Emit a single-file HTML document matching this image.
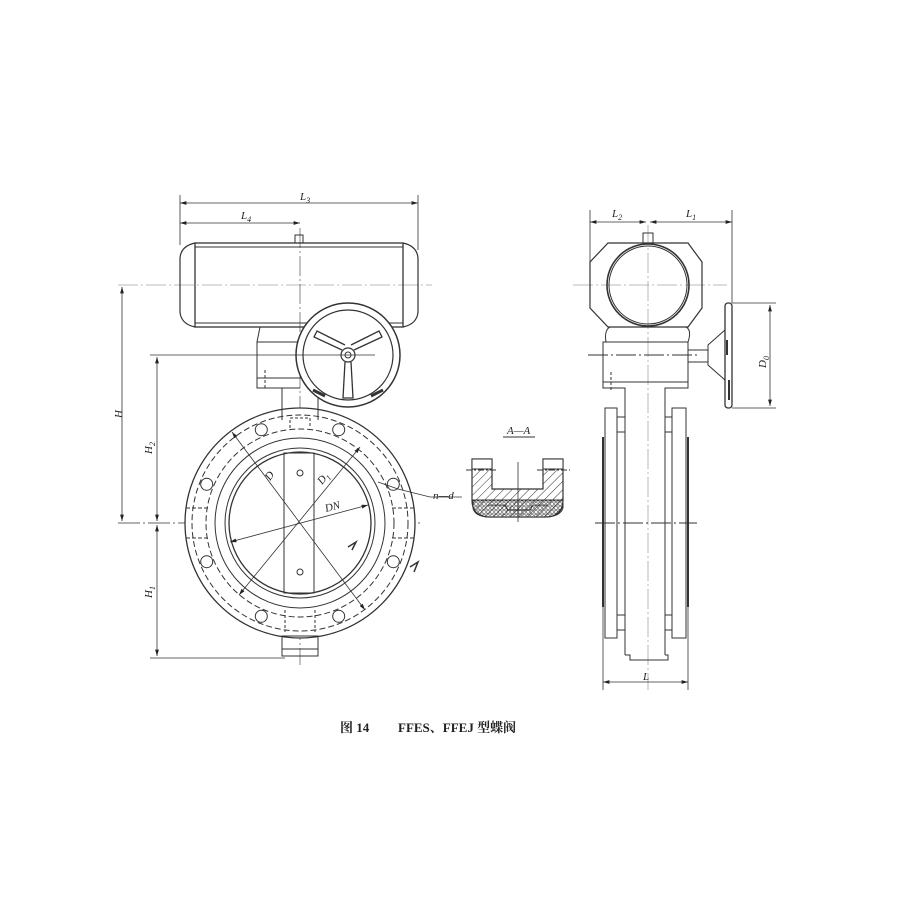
<!DOCTYPE html>
<html><head><meta charset="utf-8"><style>
html,body{margin:0;padding:0;background:#fff;}
svg{display:block}
text{font-family:"Liberation Serif","Noto Serif CJK SC",serif;fill:#222;font-style:italic}
text.cap{font-style:normal;font-weight:bold;font-size:13px}
</style></head><body>
<svg width="900" height="900" viewBox="0 0 900 900" xmlns="http://www.w3.org/2000/svg">
<defs>
<marker id="ar" viewBox="0 0 10 6" refX="10" refY="3" markerWidth="8" markerHeight="5" orient="auto-start-reverse"><path d="M0,0L10,3L0,6z" fill="#222"/></marker>
<pattern id="hatch" width="6" height="6" patternUnits="userSpaceOnUse" patternTransform="rotate(45)"><line x1="0" y1="0" x2="0" y2="6" stroke="#333" stroke-width="1"/></pattern>
<pattern id="cross" width="4" height="4" patternUnits="userSpaceOnUse"><circle cx="2" cy="2" r="1.3" fill="none" stroke="#333" stroke-width="0.7"/></pattern>
</defs>
<g fill="none" stroke="#333" stroke-width="1">
<line x1="118" y1="285" x2="432" y2="285" stroke="#bbb" stroke-dasharray="20,3,2,3"/>
<line x1="300" y1="228" x2="300" y2="665" stroke="#555" stroke-width="0.7" stroke-dasharray="20,3,2,3"/>
<line x1="118" y1="523" x2="420" y2="523" stroke-width="0.8" stroke-dasharray="22,3,2,3"/>
<rect x="195" y="243" width="208" height="84" stroke-width="1.3"/>
<line x1="195" y1="247" x2="403" y2="247"/>
<line x1="195" y1="323" x2="403" y2="323"/>
<path d="M195,243 Q181,246 180,258 L180,312 Q181,324 195,327" stroke-width="1.2"/>
<path d="M403,243 Q417,246 418,258 L418,312 Q417,324 403,327" stroke-width="1.2"/>
<rect x="295" y="235" width="8" height="8"/>
<path d="M260,327 L257,342 L257,388 L300,388"/>
<line x1="257" y1="342" x2="300" y2="342"/>
<line x1="257" y1="378" x2="340" y2="378"/>
<line x1="265" y1="370" x2="265" y2="388" stroke-dasharray="3,2"/>
<line x1="330" y1="370" x2="330" y2="388" stroke-dasharray="3,2"/>
<line x1="282" y1="388" x2="282" y2="420"/>
<line x1="318" y1="388" x2="318" y2="420"/>
<circle cx="348" cy="355" r="52" stroke-width="1.5" fill="#fff"/>
<circle cx="348" cy="355" r="45" stroke-width="1.2"/>
<circle cx="348" cy="355" r="7" stroke-width="1.2"/>
<circle cx="348" cy="355" r="3"/>
<path d="M342,350 L314,337 L317,331 L345,345" stroke-width="1.3"/>
<path d="M354,350 L382,337 L379,331 L351,345" stroke-width="1.3"/>
<path d="M345,362 L343,398 L353,398 L351,362" stroke-width="1.3"/>
<path d="M313,390 L325,396 M371,396 L383,390" stroke-width="3"/>
<circle cx="300" cy="523" r="115" stroke-width="1.3" fill="#fff"/>
<circle cx="300" cy="523" r="108" stroke-dasharray="6,3"/>
<circle cx="300" cy="523" r="94" stroke-dasharray="6,3"/>
<circle cx="300" cy="523" r="85"/>
<circle cx="300" cy="523" r="75"/>
<circle cx="300" cy="523" r="71" stroke-width="1.3"/>
<g stroke-width="1">
<circle cx="338.7" cy="429.7" r="6"/><circle cx="261.3" cy="429.7" r="6"/>
<circle cx="393.3" cy="484.3" r="6"/><circle cx="206.7" cy="484.3" r="6"/>
<circle cx="393.3" cy="561.7" r="6"/><circle cx="206.7" cy="561.7" r="6"/>
<circle cx="338.7" cy="616.3" r="6"/><circle cx="261.3" cy="616.3" r="6"/>
</g>
<line x1="282" y1="408" x2="282" y2="420"/><line x1="318" y1="408" x2="318" y2="420"/>
<path d="M290,428 L290,418 L310,418 L310,428" stroke-dasharray="3,2"/>
<path d="M186,508 L208,508 M186,538 L208,538 M392,508 L414,508 M392,538 L414,538" stroke-dasharray="4,2"/>
<path d="M285,610 L285,632 M315,610 L315,632" stroke-dasharray="3,2"/>
<rect x="282" y="636" width="36" height="20"/>
<line x1="282" y1="649" x2="318" y2="649"/>
<rect x="284" y="453" width="30" height="140"/>
<circle cx="300" cy="473" r="3"/><circle cx="300" cy="572" r="3"/>
<line x1="232" y1="432" x2="365" y2="610" stroke-width="0.8" marker-start="url(#ar)" marker-end="url(#ar)"/>
<line x1="360" y1="447" x2="239" y2="595" stroke-width="0.8" marker-start="url(#ar)" marker-end="url(#ar)"/>
<line x1="230" y1="542" x2="368" y2="505" stroke-width="0.8" marker-start="url(#ar)" marker-end="url(#ar)"/>
<path d="M378,482 L398,489 L430,497 L462,497" stroke-width="0.8"/>
<line x1="180" y1="195" x2="180" y2="245" stroke-width="0.8"/>
<line x1="418" y1="195" x2="418" y2="250" stroke-width="0.8"/>
<line x1="180" y1="203" x2="418" y2="203" stroke-width="0.8" marker-start="url(#ar)" marker-end="url(#ar)"/>
<line x1="180" y1="223" x2="300" y2="223" stroke-width="0.8" marker-start="url(#ar)" marker-end="url(#ar)"/>
<line x1="122" y1="287" x2="122" y2="521" stroke-width="0.8" marker-start="url(#ar)" marker-end="url(#ar)"/>
<line x1="150" y1="355" x2="375" y2="355" stroke-width="0.8"/>
<line x1="157" y1="357" x2="157" y2="521" stroke-width="0.8" marker-start="url(#ar)" marker-end="url(#ar)"/>
<line x1="157" y1="525" x2="157" y2="656" stroke-width="0.8" marker-start="url(#ar)" marker-end="url(#ar)"/>
<line x1="150" y1="658" x2="285" y2="658" stroke-width="0.8"/>
<path d="M348,547 L356,542 L352,550 M410,567 L418,562 L414,572" stroke-width="1.5"/>
<line x1="503" y1="437" x2="535" y2="437"/>
<path d="M472,459 L492,459 L492,489 L543,489 L543,459 L563,459 L563,500 Q563,517 545,517 L490,517 Q472,517 472,500 Z" fill="url(#hatch)" stroke-width="1.2"/>
<rect x="472" y="459" width="20" height="10" fill="#fff"/>
<rect x="543" y="459" width="20" height="10" fill="#fff"/>
<path d="M473,500 L563,500 L563,508 Q560,517 545,517 L490,517 Q475,517 473,508 Z" fill="url(#cross)"/>
<path d="M488,505 L505,505 L508,510 L530,510 L533,505 L548,505" stroke-width="1"/>
<line x1="466" y1="470" x2="498" y2="470" stroke-dasharray="6,2,2,2"/>
<line x1="537" y1="470" x2="570" y2="470" stroke-dasharray="6,2,2,2"/>
<line x1="518" y1="462" x2="518" y2="522" stroke-width="0.8"/>
<line x1="573" y1="285" x2="727" y2="285" stroke="#bbb" stroke-dasharray="20,3,2,3"/>
<line x1="648" y1="225" x2="648" y2="690" stroke="#999" stroke-width="0.7" stroke-dasharray="20,3,2,3"/>
<line x1="588" y1="355" x2="700" y2="355" stroke-dasharray="20,3,2,3"/>
<line x1="595" y1="523" x2="697" y2="523" stroke-dasharray="20,3,2,3"/>
<path d="M608,243 L688,243 L702,262 L702,308 L688,327 L608,327 L590,308 L590,262 Z" stroke-width="1.2"/>
<circle cx="648" cy="285" r="41" stroke-width="1.6"/>
<circle cx="648" cy="285" r="39"/>
<rect x="643" y="233" width="10" height="10"/>
<path d="M606,342 Q604,330 610,327 L686,327 Q692,330 688,342" />
<rect x="603" y="342" width="85" height="40"/>
<path d="M603,382 L603,388 L625,388 L625,408 M688,382 L688,388 L665,388 L665,408"/>
<line x1="611" y1="372" x2="611" y2="392" stroke-dasharray="3,2"/>
<rect x="605" y="408" width="12" height="230"/>
<rect x="672" y="408" width="14" height="230"/>
<line x1="603" y1="437" x2="603" y2="607" stroke-width="2"/>
<line x1="688" y1="437" x2="688" y2="607" stroke-width="2"/>
<rect x="617" y="417" width="8" height="15"/>
<rect x="665" y="417" width="7" height="15"/>
<rect x="617" y="615" width="8" height="15"/>
<rect x="665" y="615" width="7" height="15"/>
<line x1="625" y1="408" x2="625" y2="655"/>
<line x1="665" y1="408" x2="665" y2="655"/>
<path d="M625,655 L630,655 L630,660 L668,660 L668,655 L665,655"/>
<rect x="688" y="350" width="20" height="12"/>
<path d="M708,345 L725,330 L725,380 L708,365 Z"/>
<rect x="725" y="303" width="7" height="105" rx="3" stroke-width="1.3"/>
<path d="M727,340 L727,355 M729,380 L729,400" stroke-width="2"/>
<line x1="590" y1="210" x2="590" y2="262" stroke-width="0.8"/>
<line x1="732" y1="210" x2="732" y2="303" stroke-width="0.8"/>
<line x1="590" y1="222" x2="646" y2="222" stroke-width="0.8" marker-start="url(#ar)" marker-end="url(#ar)"/>
<line x1="650" y1="222" x2="732" y2="222" stroke-width="0.8" marker-start="url(#ar)" marker-end="url(#ar)"/>
<line x1="732" y1="303" x2="776" y2="303" stroke-width="0.8"/>
<line x1="732" y1="408" x2="776" y2="408" stroke-width="0.8"/>
<line x1="770" y1="305" x2="770" y2="406" stroke-width="0.8" marker-start="url(#ar)" marker-end="url(#ar)"/>
<line x1="603" y1="607" x2="603" y2="690" stroke-width="0.8"/>
<line x1="688" y1="607" x2="688" y2="690" stroke-width="0.8"/>
<line x1="603" y1="682" x2="688" y2="682" stroke-width="0.8" marker-start="url(#ar)" marker-end="url(#ar)"/>
</g>
<g font-size="11">
<text x="300" y="200">L<tspan font-size="8" dy="3">3</tspan></text>
<text x="241" y="219">L<tspan font-size="8" dy="3">4</tspan></text>
<text x="122" y="414" transform="rotate(-90 122 414)" text-anchor="middle">H</text>
<text x="152" y="448" transform="rotate(-90 152 448)" text-anchor="middle">H<tspan font-size="8" dy="3">2</tspan></text>
<text x="152" y="592" transform="rotate(-90 152 592)" text-anchor="middle">H<tspan font-size="8" dy="3">1</tspan></text>
<text x="270" y="481" transform="rotate(-55 270 481)">D</text>
<text x="322" y="485" transform="rotate(-50 322 485)">D<tspan font-size="8" dy="3">1</tspan></text>
<text x="326" y="512" transform="rotate(-15 326 512)">DN</text>
<text x="433" y="499">n—d</text>
<text x="507" y="434">A—A</text>
<text x="612" y="217">L<tspan font-size="8" dy="3">2</tspan></text>
<text x="686" y="217">L<tspan font-size="8" dy="3">1</tspan></text>
<text x="766" y="362" transform="rotate(-90 766 362)" text-anchor="middle">D<tspan font-size="8" dy="3">0</tspan></text>
<text x="643" y="680">L</text>
</g>
<text class="cap" x="340" y="732">图 14</text>
<text class="cap" x="398" y="732">FFES、FFEJ 型蝶阀</text>
</svg>
</body></html>
